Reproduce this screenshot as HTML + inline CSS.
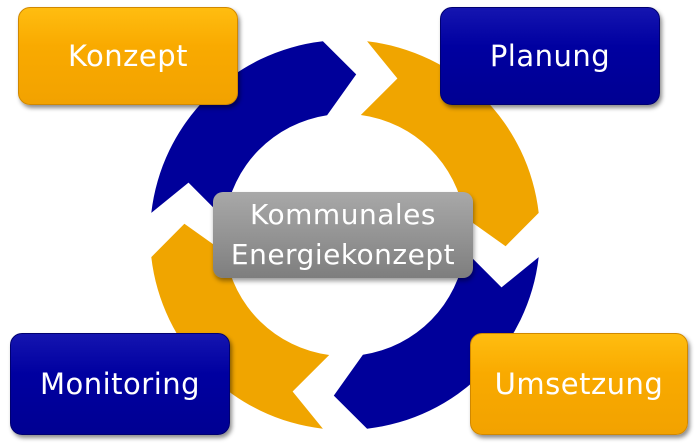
<!DOCTYPE html>
<html><head><meta charset="utf-8"><style>
body{margin:0;width:698px;height:447px;background:#fff;position:relative;overflow:hidden;font-family:"DejaVu Sans","Liberation Sans",sans-serif}
.b{position:absolute;border-radius:12px;color:#fff;display:flex;align-items:center;justify-content:center;font-size:29px;letter-spacing:0.5px;box-shadow:2px 3px 4px rgba(0,0,0,.45)}
.o{background:linear-gradient(#ffbd10,#f9aa00 40%,#f2a200);border:1px solid #d08800}
.u{background:linear-gradient(#1515b0,#0000a0 40%,#000092);border:1px solid #000070}
.c{position:absolute;left:213px;top:192px;width:260px;height:86px;border-radius:10px;background:linear-gradient(#a8a8a8,#929292 55%,#7e7e7e);color:#fff;font-size:28px;line-height:40px;text-align:center;box-shadow:1px 3px 5px rgba(0,0,0,.4);padding-top:3px;box-sizing:border-box;letter-spacing:0.5px}
</style></head><body>
<svg width="698" height="447" style="position:absolute;left:0;top:0">
<path d="" id="p0" fill="#00009a"/>
<path d="" id="p1" fill="#f0a500"/>
<path d="" id="p2" fill="#00009a"/>
<path d="" id="p3" fill="#f0a500"/>
</svg>
<script>
var cx=345,cy=235,R=195,r=121;
function P(rad,a){a=a*Math.PI/180;return (cx+rad*Math.cos(a)).toFixed(1)+","+(cy+rad*Math.sin(a)).toFixed(1)}
[-173.5,-83.5,6.5,96.5].forEach(function(t,i){
 var h=t+77,d="M"+P(R,t)+" A"+R+","+R+" 0 0 1 "+P(R,h)+" L"+P(161,h+10.5)+" L"+P(r,h-2)+" A"+r+","+r+" 0 0 0 "+P(r,t+1)+" L"+P(165,t+12)+" Z";
 document.getElementById("p"+i).setAttribute("d",d);
});
</script>
<div class="b o" style="left:18px;top:7px;width:218px;height:96px">Konzept</div>
<div class="b u" style="left:440px;top:7px;width:218px;height:96px">Planung</div>
<div class="b u" style="left:10px;top:333px;width:218px;height:100px">Monitoring</div>
<div class="b o" style="left:470px;top:333px;width:216px;height:100px">Umsetzung</div>
<div class="c">Kommunales<br>Energiekonzept</div>
</body></html>
